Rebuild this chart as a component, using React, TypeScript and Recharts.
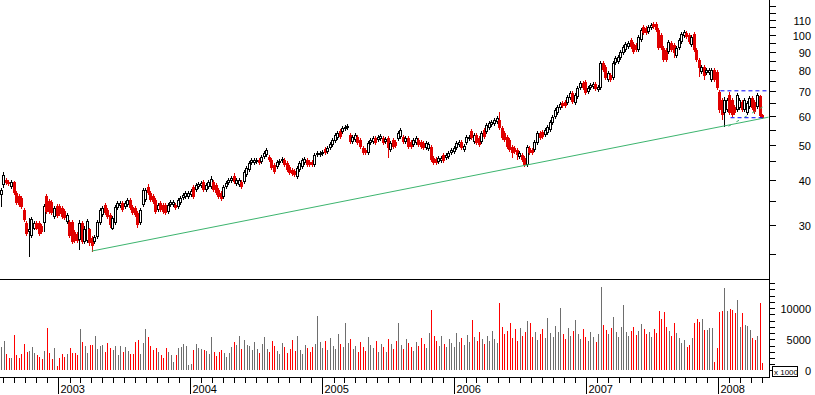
import React from "react";
import { ComposedChart, Bar, XAxis, YAxis, ReferenceLine } from "recharts";

// weekly candles, late July 2002 to early May 2008 (302 weeks)
const open = [
  36.3, 38.7, 39.9, 39.4, 38.2, 39.4, 36.8, 36.1, 35.6, 33.0,
  30.4, 28.7, 28.0, 29.4, 30.4, 30.4, 29.8, 30.4, 36.1, 34.9,
  34.7, 31.6, 33.9, 33.9, 33.4, 32.8, 30.6, 30.6, 30.6, 28.7,
  28.4, 27.3, 30.4, 27.0, 27.1, 29.3, 27.7, 27.0, 27.8, 30.4,
  32.0, 34.1, 33.0, 32.0, 29.4, 30.4, 33.4, 33.9, 34.5, 33.6,
  34.1, 35.2, 33.6, 33.4, 32.4, 30.4, 34.1, 35.2, 38.2, 36.8,
  36.1, 35.2, 33.0, 34.5, 34.1, 34.1, 32.6, 34.1, 34.1, 34.1,
  33.6, 34.5, 35.6, 35.8, 35.8, 36.3, 38.2, 37.5, 38.2, 38.4,
  39.4, 37.5, 38.2, 38.2, 39.4, 38.7, 37.5, 36.8, 35.8, 38.2,
  39.2, 39.7, 41.0, 38.9, 38.7, 39.4, 39.4, 41.2, 42.6, 44.5,
  44.5, 44.7, 45.3, 44.7, 46.2, 46.8, 46.2, 45.3, 43.9, 43.4,
  44.5, 45.0, 45.3, 44.5, 43.4, 42.6, 42.3, 40.7, 42.6, 43.4,
  44.5, 45.3, 44.7, 44.7, 43.9, 46.8, 46.8, 47.1, 48.6, 47.7,
  48.9, 49.9, 51.1, 52.1, 54.5, 54.1, 55.2, 55.5, 53.1, 50.8,
  51.5, 52.4, 51.5, 48.9, 48.3, 47.4, 50.5, 50.8, 52.1, 51.5,
  51.8, 52.1, 50.8, 52.1, 48.3, 51.5, 50.8, 51.8, 52.4, 52.4,
  50.8, 52.1, 50.8, 49.9, 50.5, 51.5, 50.8, 50.5, 48.9, 48.6,
  49.2, 45.9, 45.6, 44.7, 45.0, 46.8, 45.9, 46.2, 47.4, 47.7,
  48.9, 49.9, 50.8, 48.3, 50.5, 51.8, 54.5, 50.8, 53.1, 52.1,
  50.8, 54.8, 54.1, 55.5, 56.6, 57.0, 57.7, 58.4, 55.5, 53.8,
  52.4, 51.5, 49.2, 48.9, 48.3, 46.2, 46.8, 45.9, 43.9, 48.9,
  48.3, 48.3, 50.5, 53.8, 54.1, 53.1, 53.8, 54.8, 57.3, 59.5,
  61.1, 63.0, 65.0, 65.5, 65.0, 67.1, 69.3, 65.0, 67.6, 71.6,
  73.8, 74.3, 69.8, 71.6, 72.0, 73.4, 70.6, 71.6, 83.8, 81.7,
  75.2, 77.7, 76.2, 83.8, 84.3, 86.5, 89.3, 91.0, 92.7, 96.9,
  94.5, 93.9, 91.0, 96.9, 105.2, 104.6, 101.9, 104.6, 107.2, 107.2,
  103.2, 100.0, 92.1, 91.0, 89.8, 95.1, 93.9, 87.6, 92.1, 95.7,
  99.4, 101.3, 100.0, 93.9, 100.6, 91.0, 85.4, 79.2, 81.7, 78.7,
  78.7, 75.2, 80.2, 79.2, 69.8, 66.3, 61.1, 62.2, 68.4, 66.3,
  63.4, 62.2, 63.0, 65.5, 62.2, 61.1, 63.4, 67.1, 65.5, 63.4,
  68.0, 60.3,
];

const high = [
  38.0, 42.0, 40.5, 39.9, 39.9, 39.7, 37.2, 36.5, 36.1, 33.4,
  30.8, 31.4, 31.6, 30.8, 30.8, 30.8, 30.2, 34.3, 36.5, 35.4,
  35.2, 33.9, 34.3, 34.3, 33.9, 33.2, 32.4, 31.0, 31.0, 29.1,
  28.7, 31.0, 30.8, 29.8, 31.2, 29.6, 28.0, 28.2, 31.0, 33.4,
  33.9, 34.5, 33.4, 32.4, 31.8, 34.1, 34.9, 34.9, 34.9, 34.9,
  35.6, 35.6, 34.1, 33.9, 32.8, 33.4, 38.0, 38.0, 38.9, 37.2,
  36.5, 35.6, 34.5, 34.9, 34.5, 34.5, 34.5, 35.2, 35.2, 34.5,
  35.6, 36.1, 36.8, 37.2, 37.2, 37.7, 38.7, 39.2, 39.4, 39.7,
  39.9, 39.2, 39.9, 41.0, 39.9, 39.2, 38.0, 37.2, 38.7, 39.7,
  40.5, 41.0, 41.7, 40.5, 40.5, 39.9, 42.6, 43.6, 45.0, 45.9,
  45.9, 45.9, 45.9, 46.8, 48.0, 48.9, 46.8, 45.9, 44.5, 45.3,
  45.6, 46.2, 45.9, 45.0, 43.9, 43.1, 42.8, 43.6, 45.0, 45.9,
  46.2, 45.9, 45.3, 45.3, 47.4, 48.0, 48.0, 48.3, 49.2, 49.5,
  50.8, 52.1, 53.8, 54.5, 55.2, 56.3, 56.6, 57.0, 53.8, 53.1,
  53.8, 53.1, 52.1, 49.5, 48.9, 51.1, 52.1, 52.8, 52.8, 53.1,
  53.4, 52.8, 52.4, 52.8, 51.1, 52.1, 51.5, 54.5, 55.5, 53.1,
  52.8, 52.8, 51.5, 52.1, 52.8, 52.1, 51.5, 51.1, 51.1, 50.8,
  49.9, 46.5, 46.2, 46.5, 46.5, 47.4, 47.4, 48.0, 48.9, 49.5,
  51.1, 51.5, 51.5, 50.2, 53.1, 53.1, 55.2, 53.8, 53.8, 52.8,
  54.5, 55.5, 57.3, 58.0, 58.4, 59.2, 59.9, 61.4, 56.3, 54.5,
  53.1, 52.1, 49.9, 49.5, 48.9, 48.0, 47.4, 46.5, 49.9, 49.5,
  48.9, 51.5, 54.5, 54.5, 54.8, 55.5, 56.6, 58.4, 60.3, 63.0,
  64.2, 65.5, 65.9, 66.3, 68.4, 70.2, 70.2, 69.3, 72.5, 74.8,
  74.8, 75.2, 72.5, 73.8, 74.3, 74.3, 72.9, 84.8, 84.8, 82.7,
  79.7, 78.7, 84.8, 87.6, 88.1, 91.0, 93.9, 95.7, 96.3, 98.1,
  95.7, 95.1, 100.0, 104.6, 106.6, 105.9, 106.6, 107.9, 108.6, 108.6,
  104.6, 101.3, 93.3, 92.1, 96.9, 96.3, 95.1, 93.3, 98.1, 101.9,
  103.2, 102.6, 101.3, 100.0, 101.9, 92.1, 86.5, 82.7, 82.7, 81.2,
  81.2, 81.2, 81.2, 80.2, 70.6, 67.1, 67.6, 67.1, 69.8, 67.1,
  64.2, 69.3, 67.1, 66.3, 67.1, 65.9, 68.0, 68.0, 66.3, 69.3,
  68.4, 60.7,
];

const low = [
  33.6, 38.0, 38.7, 38.4, 37.7, 36.3, 34.1, 33.6, 33.2, 30.6,
  28.0, 24.5, 27.7, 29.1, 29.1, 28.0, 28.4, 28.7, 32.2, 32.2,
  32.0, 31.2, 31.4, 31.8, 31.2, 31.0, 30.2, 27.7, 26.6, 26.8,
  26.8, 25.6, 26.6, 26.6, 26.8, 26.4, 25.3, 26.6, 27.5, 30.0,
  31.6, 32.0, 31.2, 29.6, 29.1, 30.0, 33.0, 33.4, 32.6, 33.2,
  33.6, 33.0, 32.0, 31.6, 29.6, 30.0, 33.6, 34.7, 36.3, 34.7,
  34.3, 32.2, 32.6, 32.6, 32.2, 32.0, 32.2, 33.6, 33.6, 33.0,
  33.2, 34.1, 35.2, 35.4, 35.4, 35.8, 35.4, 37.0, 37.7, 38.0,
  37.0, 37.0, 37.7, 37.7, 37.0, 36.3, 35.4, 34.9, 35.4, 37.7,
  38.7, 39.2, 38.9, 38.4, 38.2, 37.7, 38.9, 40.7, 42.0, 43.9,
  43.9, 44.2, 43.9, 44.2, 45.6, 46.2, 44.7, 42.6, 41.5, 42.8,
  43.9, 44.5, 43.4, 42.0, 41.2, 41.0, 40.7, 40.2, 42.0, 42.8,
  43.9, 43.4, 43.4, 43.4, 43.4, 46.2, 46.2, 46.5, 46.8, 47.1,
  48.3, 49.2, 50.5, 51.5, 51.8, 53.4, 54.5, 54.8, 50.2, 50.2,
  50.8, 49.9, 48.6, 46.8, 46.8, 46.8, 49.9, 50.2, 49.9, 50.8,
  51.1, 49.9, 50.2, 45.9, 47.7, 48.6, 48.9, 51.1, 51.8, 50.2,
  50.2, 48.6, 48.6, 49.2, 49.9, 49.2, 48.6, 48.3, 48.3, 48.0,
  44.7, 43.9, 43.9, 44.2, 44.5, 44.5, 45.3, 45.6, 46.8, 47.1,
  48.3, 49.2, 48.3, 47.7, 49.9, 51.1, 51.5, 50.2, 49.9, 49.2,
  50.2, 51.8, 53.4, 54.8, 55.9, 56.3, 57.0, 54.8, 51.5, 50.8,
  48.6, 47.7, 45.9, 47.1, 45.3, 45.6, 44.7, 43.4, 43.4, 46.8,
  46.8, 47.7, 49.9, 51.5, 51.8, 52.4, 53.1, 54.1, 56.6, 58.8,
  60.3, 62.2, 63.0, 63.0, 64.2, 66.3, 64.6, 64.2, 66.7, 70.6,
  70.6, 68.4, 68.9, 70.6, 71.1, 70.2, 69.8, 70.6, 79.2, 75.2,
  74.3, 74.3, 75.2, 82.7, 83.2, 85.4, 88.1, 89.8, 91.6, 91.6,
  88.7, 89.8, 89.8, 95.7, 100.0, 100.0, 100.6, 103.2, 103.9, 101.9,
  91.0, 91.0, 84.3, 84.3, 88.7, 89.8, 86.5, 86.5, 91.0, 94.5,
  98.1, 97.5, 94.5, 92.7, 89.8, 84.3, 76.7, 78.2, 75.2, 77.7,
  77.7, 74.3, 74.3, 70.6, 61.1, 58.4, 55.9, 61.4, 60.3, 59.5,
  60.3, 61.4, 62.2, 61.4, 61.4, 60.3, 62.6, 62.2, 60.7, 62.6,
  59.2, 58.8,
];

const close = [
  37.5, 41.2, 39.2, 38.9, 39.4, 36.8, 34.5, 34.1, 33.6, 31.0,
  28.4, 29.4, 31.2, 30.4, 29.4, 28.4, 28.7, 33.9, 32.6, 32.6,
  32.4, 33.4, 31.8, 32.2, 31.6, 31.4, 32.0, 28.0, 27.0, 27.1,
  27.1, 30.4, 27.0, 29.4, 30.8, 26.8, 26.4, 27.8, 30.6, 33.0,
  33.4, 32.4, 31.6, 30.0, 31.4, 33.6, 34.5, 34.5, 33.0, 34.5,
  35.2, 33.4, 32.4, 32.0, 30.0, 33.0, 37.5, 37.5, 36.8, 35.2,
  34.7, 32.6, 34.1, 33.0, 32.6, 32.4, 34.1, 34.7, 34.7, 33.4,
  35.2, 35.6, 36.3, 36.8, 36.8, 37.2, 35.8, 38.7, 38.9, 39.2,
  37.5, 38.7, 39.4, 40.2, 37.5, 36.8, 35.8, 35.4, 38.2, 39.2,
  39.9, 40.5, 39.4, 39.9, 39.9, 38.2, 42.0, 43.1, 44.5, 45.3,
  45.3, 45.3, 44.5, 46.2, 47.4, 48.3, 45.3, 43.1, 42.0, 44.7,
  45.0, 45.6, 43.9, 42.6, 41.7, 41.5, 41.2, 43.1, 44.5, 45.3,
  45.6, 43.9, 43.9, 43.9, 46.8, 47.4, 47.4, 47.7, 47.4, 48.9,
  50.2, 51.5, 53.1, 53.8, 52.4, 55.5, 55.9, 56.3, 50.8, 52.4,
  53.1, 50.5, 49.2, 47.4, 47.4, 50.5, 51.5, 52.1, 50.5, 52.4,
  52.8, 50.5, 51.8, 48.9, 50.5, 49.2, 49.5, 53.8, 54.8, 50.8,
  52.1, 49.2, 49.2, 51.5, 52.1, 49.9, 49.2, 48.9, 50.5, 50.2,
  45.3, 44.5, 44.5, 45.9, 45.9, 45.0, 46.8, 47.4, 48.3, 48.9,
  50.5, 50.8, 48.9, 49.5, 52.4, 52.4, 52.1, 53.1, 50.5, 49.9,
  53.8, 52.4, 56.6, 57.3, 57.7, 58.4, 59.2, 55.5, 52.1, 51.5,
  49.2, 48.3, 47.4, 47.7, 46.8, 47.4, 45.3, 43.9, 49.2, 47.4,
  47.4, 50.8, 53.8, 52.1, 52.4, 54.8, 55.9, 57.7, 59.5, 62.2,
  63.4, 64.6, 63.8, 63.8, 67.6, 69.3, 65.5, 68.4, 71.6, 73.8,
  71.6, 69.3, 71.6, 72.9, 73.4, 71.1, 72.0, 83.8, 80.2, 76.2,
  78.7, 75.2, 83.8, 86.5, 87.0, 89.8, 92.7, 94.5, 95.1, 92.7,
  89.8, 91.0, 98.7, 103.2, 101.3, 101.3, 105.2, 106.6, 105.2, 103.2,
  92.1, 92.1, 85.4, 85.4, 95.7, 91.0, 89.3, 92.1, 96.9, 100.6,
  101.9, 98.7, 95.7, 98.7, 91.0, 85.4, 81.2, 81.7, 77.2, 80.2,
  80.2, 80.2, 75.2, 71.6, 62.2, 60.3, 66.3, 66.3, 61.1, 60.3,
  61.1, 68.4, 66.3, 62.2, 66.3, 65.0, 67.1, 63.0, 61.4, 68.4,
  59.9, 59.2,
];

// weekly volume, thousands of shares shown x1000 on the axis
const volume = [
  3770, 4730, 2580, 1990, 1990, 5650, 2420, 1990, 2580, 4200,
  2960, 3120, 3770, 2800, 2420, 2150, 1780, 3070, 6830, 2800,
  1780, 3610, 650, 1990, 2580, 2150, 2580, 3610, 2800, 2800,
  2420, 6620, 4570, 3870, 2800, 4040, 4040, 5490, 3390, 3870,
  4040, 2960, 4410, 3610, 3230, 3870, 2420, 3870, 2960, 3770,
  3070, 2580, 2580, 4570, 4840, 2690, 4410, 6620, 5380, 3870,
  3230, 3610, 2960, 2420, 1990, 3610, 2960, 2420, 1350, 2420,
  3610, 3770, 4200, 3870, 810, 970, 3230, 4200, 3610, 3390,
  3230, 3070, 2690, 5380, 2960, 2260, 2960, 3230, 2800, 2150,
  2800, 3770, 4570, 4040, 5490, 3390, 4840, 4040, 4000, 3300,
  4600, 3500, 2800, 4200, 5300, 3500, 3000, 4700, 3900, 3200,
  2700, 4400, 3800, 2800, 3500, 4900, 3100, 5600, 3300, 2600,
  4100, 3600, 2900, 3800, 4300, 8700, 4500, 3600, 4800, 3300,
  5200, 4000, 3400, 5800, 4200, 3700, 7600, 4400, 5100, 3500,
  4000, 3000, 4600, 3800, 3200, 5400, 4100, 3600, 4800, 3000,
  4300, 3700, 2900, 5000, 4200, 3400, 4700, 7600, 4100, 3500,
  5000, 4400, 3800, 3200, 4600, 3900, 5200, 4200, 3600, 6000,
  9700, 5500, 4800, 4000, 5600, 4300, 3700, 5100, 4400, 3800,
  6000, 4600, 5200, 4100, 5700, 4500, 8100, 5300, 4700, 6200,
  5000, 4300, 5600, 4800, 6300, 5100, 4400, 10800, 7000, 5800,
  6400, 7600, 5200, 6600, 4700, 6800, 5500, 6200, 7900, 7600,
  5300, 6100, 4900, 5800, 6700, 5200, 8400, 6000, 5400, 7100,
  6200, 10000, 5900, 5100, 6800, 5600, 6300, 8100, 5800, 5000,
  6600, 5400, 4800, 6200, 5300, 4600, 5800, 13400, 7300, 6500,
  5900, 6800, 8500, 6200, 5400, 6900, 10500, 6100, 5500, 6400,
  7000, 5700, 6300, 7400, 6600, 5800, 6100, 5300, 6700, 6000,
  9500, 8200, 9400, 7000, 6300, 5600, 7600, 6000, 5200, 4410,
  4840, 3770, 4040, 5220, 7640, 8230, 7800, 8230, 6460, 6460,
  6890, 6890, 1350, 3600, 9400, 9580, 13290, 9580, 9850, 9690,
  9250, 11300, 6990, 9250, 7260, 7100, 6460, 5220, 4840, 5490,
  10870, 1180,
];

const yearLabels = ["2003", "2004", "2005", "2006", "2007", "2008"];
const priceTicks = [25, 30, 35, 40, 45, 50, 55, 60, 65, 70, 75, 80, 85, 90, 95, 100, 105, 110, 115, 120];
const priceLabels = [30, 40, 50, 60, 70, 80, 90, 100, 110];
const volumeTicks = [0, 1000, 2000, 3000, 4000, 5000, 6000, 7000, 8000, 9000, 10000, 11000, 12000, 13000, 14000];
const volumeLabels = [0, 5000, 10000];

// drawn lines, in (week, price)
const supportLine = [{ x: 35.7, y: 25.5 }, { x: 303.3, y: 59.5 }];
const rangeTop = [{ x: 284.3, y: 70.3 }, { x: 303.7, y: 70.3 }];
const rangeBottom = [{ x: 288.3, y: 59.3 }, { x: 301.3, y: 59.3 }];
const innerTrend = [{ x: 287.5, y: 56.2 }, { x: 301.3, y: 63.6 }];

const FONT = '"Liberation Sans", Arial, sans-serif';
const RED = "#e00000";
const VOL_RED = "#ff0000";
const VOL_GREY = "#6e6e6e";
const AXIS_X = 769.5;
const X_DOMAIN: [number, number] = [-0.6, 303.7];

const data = close.map((c, i) => ({
  week: i,
  open: open[i],
  high: high[i],
  low: low[i],
  close: c,
  range: [low[i], high[i]],
  volume: volume[i],
}));

// month ticks along the time axis
const DAY = 86400000;
const firstWeek = Date.UTC(2002, 6, 27, 12);
const monthTicks: number[] = [];
const yearAt = new Map<string, string>();
for (let yr = 2002; yr <= 2008; yr++) {
  for (let m = 0; m < 12; m++) {
    const w = (Date.UTC(yr, m, 1) - firstWeek) / (7 * DAY);
    if (w < X_DOMAIN[0] || w > X_DOMAIN[1]) continue;
    monthTicks.push(w);
    if (m === 0) yearAt.set(w.toFixed(3), yearLabels[yr - 2003]);
  }
}

function Candle(props: any) {
  const { x, y, width, height, payload } = props;
  if (!payload || x == null || y == null) return null;
  const top = Math.min(y, y + height);
  const span = Math.abs(height);
  const lh = Math.log(payload.high);
  const ll = Math.log(payload.low);
  const at = (v: number) => (lh === ll ? top : top + ((lh - Math.log(v)) / (lh - ll)) * span);
  const left = Math.round(x + width / 2 - 1.5);
  const mid = left + 1.5;
  const up = payload.close >= payload.open;
  const y1 = Math.round(at(Math.max(payload.open, payload.close)));
  const y2 = Math.round(at(Math.min(payload.open, payload.close)));
  const hi = Math.round(top);
  const lo = Math.round(top + span);
  let body;
  if (!up) body = <rect x={left} y={y1} width={3} height={Math.max(1, y2 - y1)} fill={RED} />;
  else if (y2 - y1 >= 2) body = <rect x={left + 0.5} y={y1 + 0.5} width={2} height={y2 - y1 - 1} fill="#fff" stroke="#000" />;
  else body = <rect x={left} y={y1} width={3} height={Math.max(1, y2 - y1)} fill="#000" />;
  return (
    <g>
      <line x1={mid} x2={mid} y1={hi} y2={lo} stroke={up ? "#000" : RED} />
      {body}
    </g>
  );
}

function VolumeBar(props: any) {
  const { x, y, width, height, payload } = props;
  if (!payload || x == null || y == null) return null;
  const left = Math.round(x + width / 2 - 0.5);
  const top = Math.round(Math.min(y, y + height));
  const bottom = Math.round(Math.max(y, y + height));
  return <rect x={left} y={top} width={1} height={Math.max(0, bottom - top)} fill={payload.close >= payload.open ? VOL_GREY : VOL_RED} />;
}

function PriceTick(props: any) {
  const { y, payload } = props;
  const py = Math.round(y) + 0.5;
  return (
    <g>
      <line x1={AXIS_X} x2={AXIS_X + 6.5} y1={py} y2={py} stroke="#000" />
      {priceLabels.includes(payload.value) && (
        <text x={811} y={py + 4} textAnchor="end" fontSize={11} fontFamily={FONT} fill="#000">
          {payload.value}
        </text>
      )}
    </g>
  );
}

function VolumeTick(props: any) {
  const { y, payload } = props;
  const py = Math.round(y) + 0.5;
  return (
    <g>
      <line x1={AXIS_X} x2={AXIS_X + 5.5} y1={py} y2={py} stroke="#000" />
      {volumeLabels.includes(payload.value) && (
        <text x={811} y={py + 4} textAnchor="end" fontSize={11} fontFamily={FONT} fill="#000">
          {payload.value}
        </text>
      )}
    </g>
  );
}

function TimeTick(props: any) {
  const { x, payload } = props;
  const px = Math.round(x) + 0.5;
  const label = yearAt.get(Number(payload.value).toFixed(3));
  return (
    <g>
      <line x1={px} x2={px} y1={97.5} y2={label ? 114 : 103} stroke="#000" />
      {label && (
        <text x={px + 2} y={112.5} fontSize={11} fontFamily={FONT} fill="#000">
          {label}
        </text>
      )}
    </g>
  );
}

const axisLine = { stroke: "#000", shapeRendering: "crispEdges" };

export default function App() {
  return (
    <div style={{ position: "absolute", left: 0, top: 0, width: 815, height: 395, background: "#fff" }}>
      <div style={{ position: "absolute", left: 0, top: 0 }}>
        <ComposedChart width={815} height={280} data={data} margin={{ top: 0, right: 0, left: 0, bottom: 0 }}>
          <XAxis
            dataKey="week"
            type="number"
            domain={X_DOMAIN}
            allowDataOverflow
            ticks={monthTicks}
            height={0.5}
            tick={false}
            tickLine={false}
            axisLine={axisLine}
          />
          <YAxis
            orientation="right"
            scale="log"
            domain={[21.3, 124.9]}
            allowDataOverflow
            ticks={priceTicks}
            interval={0}
            width={45.5}
            tickLine={false}
            axisLine={axisLine}
            tick={<PriceTick />}
          />
          <Bar dataKey="range" barSize={3} shape={<Candle />} isAnimationActive={false} />
          <ReferenceLine segment={supportLine} stroke="#3cb46e" strokeWidth={1} />
          <ReferenceLine segment={innerTrend} stroke="#3cb46e" strokeDasharray="3 6" />
          <ReferenceLine segment={rangeTop} stroke="#0000ff" strokeDasharray="4 3" />
          <ReferenceLine segment={rangeBottom} stroke="#0000ff" strokeDasharray="4 3" />
        </ComposedChart>
      </div>
      <div style={{ position: "absolute", left: 0, top: 280 }}>
        <ComposedChart width={815} height={115} data={data} margin={{ top: 0, right: 0, left: 0, bottom: 0 }}>
          <XAxis
            dataKey="week"
            type="number"
            domain={X_DOMAIN}
            allowDataOverflow
            ticks={monthTicks}
            interval={0}
            height={17.5}
            tickLine={false}
            axisLine={axisLine}
            tick={<TimeTick />}
          />
          <YAxis
            orientation="right"
            domain={[-1129, 14517]}
            allowDataOverflow
            ticks={volumeTicks}
            interval={0}
            width={45.5}
            tickLine={false}
            axisLine={axisLine}
            tick={<VolumeTick />}
          />
          <Bar dataKey="volume" barSize={1} shape={<VolumeBar />} isAnimationActive={false} />
        </ComposedChart>
      </div>
      <svg width={815} height={395} style={{ position: "absolute", left: 0, top: 0, pointerEvents: "none" }}>
        <rect x={772.5} y={366.5} width={25} height={10} fill="#fff" stroke="#000" />
        <text x={774} y={375} fontSize={8} fontFamily={FONT} fill="#000">
          x 1000
        </text>
      </svg>
    </div>
  );
}
